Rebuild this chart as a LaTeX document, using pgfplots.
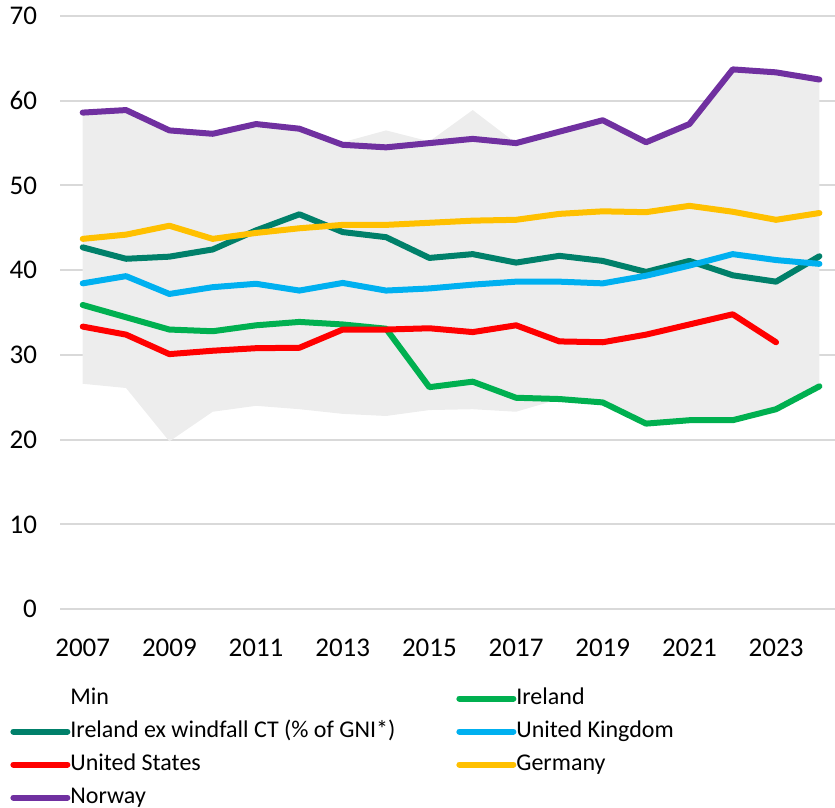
\documentclass[border=0pt]{standalone}
\usepackage{fontspec}
\setmainfont{Carlito}
\usepackage{pgfplots}
\pgfplotsset{compat=1.18}
\usepgfplotslibrary{fillbetween}

\definecolor{cIre}{HTML}{00B050}
\definecolor{cIreEx}{HTML}{00806A}
\definecolor{cUK}{HTML}{00B0F0}
\definecolor{cUS}{HTML}{FF0000}
\definecolor{cDE}{HTML}{FFC000}
\definecolor{cNO}{HTML}{7030A0}
\definecolor{cArea}{HTML}{EDEDED}
\definecolor{cGrid}{HTML}{D9D9D9}

\begin{document}
\begin{tikzpicture}
\begin{axis}[
  name=ax,
  scale only axis,
  width=387.5pt, height=296.6pt,
  xmin=2006.476, xmax=2024.36,
  ymin=0, ymax=70,
  ytick={0,10,...,70},
  xtick={2007,2009,...,2023},
  axis line style={draw=none},
  major tick length=0pt,
  ymajorgrids,
  grid style={cGrid, line width=1pt},
  /pgf/number format/assume math mode=true,
  /pgf/number format/1000 sep={},
  tick label style={font=\fontsize{13.5}{16}\selectfont},
  yticklabel style={xshift=-8pt},
  xticklabel style={yshift=-11.5pt},
  every axis plot/.append style={line width=3pt, line join=round, line cap=round},
  legend columns=2,
  legend cell align=left,
  legend style={
    at={(0,0)}, anchor=north west,
    xshift=-25pt, yshift=-38.5pt,
    draw=none, fill=none, inner sep=0pt,
    font=\fontsize{12}{14}\selectfont,
    row sep=4.5pt,
    nodes={inner sep=0pt, text height=9pt, text depth=3pt},
    /tikz/column 2/.style={column sep=30.5pt},
  },
  legend image code/.code={
    \path (0pt,0pt) -- (27pt,0pt);
    \draw[#1] (1.5pt,0pt) -- (25.5pt,0pt);},
]
% shaded band (min to max)
\addplot[draw=none, name path=lo,
  legend image code/.code={\path (0pt,0pt) -- (27pt,0pt);}] coordinates {
  (2007,26.6) (2008,26.1) (2009,19.8) (2010,23.3) (2011,24.0) (2012,23.6)
  (2013,23.05) (2014,22.8) (2015,23.5) (2016,23.6) (2017,23.3) (2018,24.8)
  (2019,24.4) (2020,21.9) (2021,22.3) (2022,22.3) (2023,23.6) (2024,26.3)
};
\addlegendentry{Min}
\addplot[draw=none, name path=hi, forget plot] coordinates {
  (2007,58.6) (2008,58.9) (2009,56.5) (2010,56.1) (2011,57.25) (2012,56.7)
  (2013,55.1) (2014,56.5) (2015,55.2) (2016,58.9) (2017,55.0) (2018,56.35)
  (2019,57.7) (2020,55.1) (2021,57.25) (2022,63.7) (2023,63.35) (2024,62.5)
};
\addplot[cArea, draw=none, forget plot] fill between[of=hi and lo];

% Ireland
\addplot[cIre] coordinates {
  (2007,35.9) (2008,34.45) (2009,33.0) (2010,32.8) (2011,33.5) (2012,33.9)
  (2013,33.6) (2014,33.1) (2015,26.2) (2016,26.85) (2017,24.95) (2018,24.8)
  (2019,24.4) (2020,21.9) (2021,22.3) (2022,22.3) (2023,23.6) (2024,26.3)
};
\addlegendentry{Ireland}
% Ireland ex windfall CT
\addplot[cIreEx] coordinates {
  (2007,42.7) (2008,41.35) (2009,41.6) (2010,42.45) (2011,44.7) (2012,46.6)
  (2013,44.5) (2014,43.9) (2015,41.45) (2016,41.9) (2017,40.9) (2018,41.7)
  (2019,41.1) (2020,39.8) (2021,41.1) (2022,39.4) (2023,38.65) (2024,41.65)
};
\addlegendentry{Ireland ex windfall CT (\% of GNI*)}
% United Kingdom
\addplot[cUK] coordinates {
  (2007,38.45) (2008,39.3) (2009,37.2) (2010,38.0) (2011,38.4) (2012,37.6)
  (2013,38.5) (2014,37.6) (2015,37.85) (2016,38.3) (2017,38.65) (2018,38.65)
  (2019,38.45) (2020,39.35) (2021,40.55) (2022,41.9) (2023,41.2) (2024,40.75)
};
\addlegendentry{United Kingdom}
% United States
\addplot[cUS] coordinates {
  (2007,33.35) (2008,32.4) (2009,30.1) (2010,30.5) (2011,30.8) (2012,30.85)
  (2013,33.0) (2014,33.0) (2015,33.15) (2016,32.7) (2017,33.5) (2018,31.6)
  (2019,31.5) (2020,32.4) (2021,33.6) (2022,34.8) (2023,31.5)
};
\addlegendentry{United States}
% Germany
\addplot[cDE] coordinates {
  (2007,43.7) (2008,44.2) (2009,45.25) (2010,43.7) (2011,44.4) (2012,44.95)
  (2013,45.35) (2014,45.35) (2015,45.6) (2016,45.85) (2017,45.95) (2018,46.65)
  (2019,46.95) (2020,46.85) (2021,47.6) (2022,46.9) (2023,45.95) (2024,46.75)
};
\addlegendentry{Germany}
% Norway
\addplot[cNO] coordinates {
  (2007,58.6) (2008,58.9) (2009,56.5) (2010,56.1) (2011,57.25) (2012,56.7)
  (2013,54.8) (2014,54.5) (2015,55.0) (2016,55.5) (2017,55.0) (2018,56.35)
  (2019,57.7) (2020,55.1) (2021,57.25) (2022,63.7) (2023,63.35) (2024,62.5)
};
\addlegendentry{Norway}
\end{axis}
\pgfresetboundingbox
\path ([xshift=-30pt,yshift=-99pt]ax.south west) rectangle ([yshift=8pt]ax.north east);
\end{tikzpicture}
\end{document}
